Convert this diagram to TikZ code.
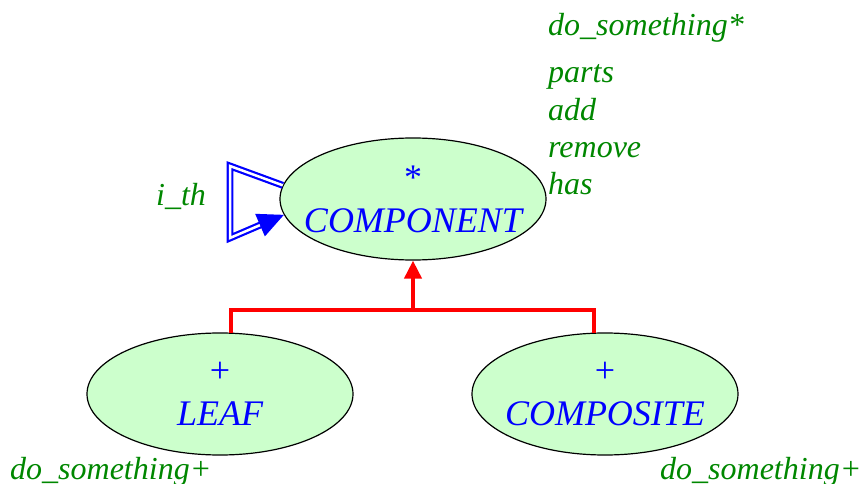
\documentclass[tikz,border=0pt]{standalone}
\usepackage{fontspec}
\setmainfont{Liberation Serif}
\usetikzlibrary{shapes.geometric,arrows.meta}
\definecolor{featgreen}{RGB}{0,135,0}
\definecolor{clsfill}{RGB}{204,255,204}
\tikzset{
  cls/.style={ellipse, draw=black, line width=1.2pt, fill=clsfill,
    minimum width=266pt, minimum height=122pt, inner xsep=-45pt, inner ysep=0pt,
    align=center, text=blue, font=\fontsize{36}{43}\selectfont\itshape},
  feat/.style={text=featgreen, anchor=base west, inner sep=0pt,
    font=\fontsize{32}{37}\selectfont\itshape},
  inherit/.style={draw=red, line width=4pt},
  client/.style={draw=blue, double, double distance=2.5pt, line width=2.2pt}
}
\begin{document}
\begin{tikzpicture}[x=1pt,y=-1pt]
	\useasboundingbox (0,0) rectangle (860,484);
	% classes
	\node[cls] (component) at (413,199) {\upshape*\\COMPONENT};
	\node[cls] (leaf) at (220,394) {\upshape+\\LEAF};
	\node[cls] (composite) at (605,394) {\upshape+\\COMPOSITE};
	% features
	\node[feat] (dostar) at (548,36) {do\_something*};
	\node[feat] (parts) at (548,83) {parts};
	\node[feat] (add) at (548,121) {add};
	\node[feat] (remove) at (548,158) {remove};
	\node[feat] (has) at (548,195) {has};
	\node[feat] (ith) at (156,205) {i\_th};
	\node[feat] (leafdo) at (10,479) {do\_something+};
	\node[feat] (compdo) at (660,479) {do\_something+};
	% inheritance
	\coordinate (split) at (413,310);
	\draw[inherit,-{Triangle[length=18pt,width=17pt]}] (split) -- (component.south);
	\draw[inherit] (leaf.80) |- (split) -| (composite.100);
	% client link
	\coordinate (cup) at (230,166);
	\coordinate (cdown) at (230,238);
	\draw[client,-{Triangle[length=26pt,width=24pt]}] (component.174) -- (cup) -- (cdown) -- (component.187);
\end{tikzpicture}
\end{document}
